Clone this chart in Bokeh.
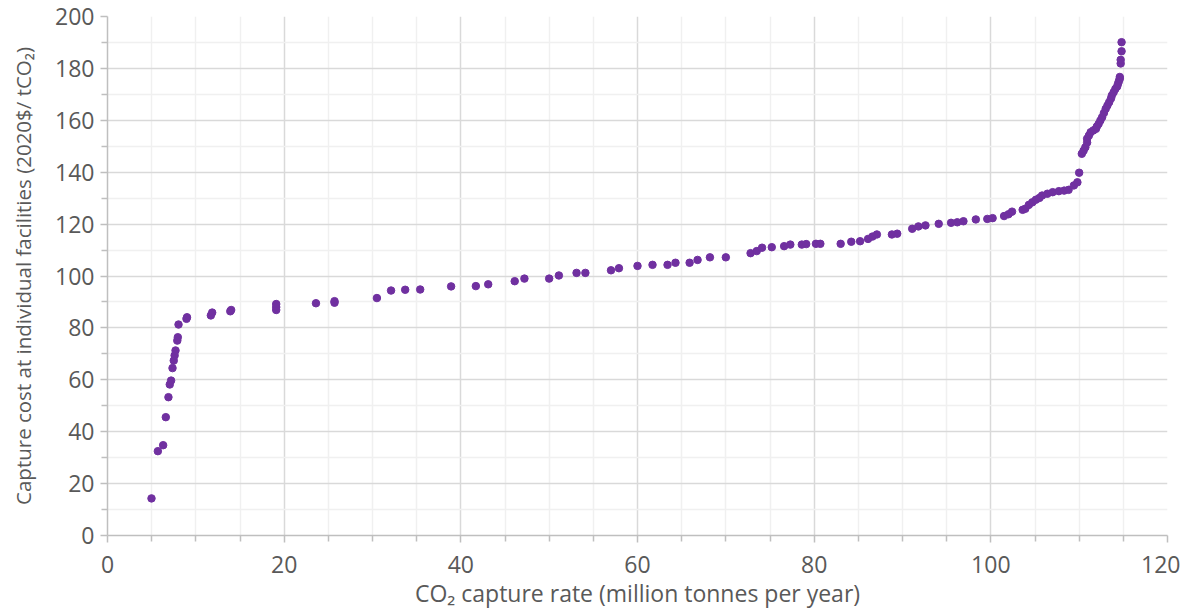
from bokeh.plotting import figure
from bokeh.models import Range1d, FixedTicker, ColumnDataSource
from bokeh.embed import file_html
from bokeh.resources import INLINE

# CO2 capture rate (million tonnes per year), cumulative
capture_rate = [
    4.98, 5.7, 6.3, 6.6, 6.9, 7.05, 7.2, 7.36, 7.5, 7.6, 7.7, 7.9, 7.96, 8.04, 8.94, 9.0,
    11.7, 11.85, 13.9, 14.0,
    19.1, 19.1, 19.1,
    23.6, 25.7, 25.7, 30.5, 32.1, 33.7, 35.4, 38.9, 41.7, 43.1,
    46.1, 47.2, 50.0, 51.1, 53.1, 54.1, 57.0, 57.9, 60.0, 61.7,
    63.4, 64.3, 65.9, 66.8, 68.2, 70.0, 72.8, 73.5, 74.1, 75.2,
    76.6, 77.3, 78.6, 79.1, 80.2, 80.7, 83.0, 84.2, 85.2, 86.1,
    86.6, 87.1, 88.8, 89.4, 91.1, 91.8, 92.6, 94.1, 95.5, 96.2,
    96.9, 98.3, 99.6, 100.2,
    101.5, 102.0, 102.4, 103.6, 103.9, 104.3, 104.7, 105.1, 105.5, 105.8,
    106.4, 107.0, 107.7, 108.3, 108.8, 109.4, 109.8, 110.0,
    110.3, 110.5, 110.7, 110.9, 110.9, 111.1, 111.3, 111.6, 111.9, 112.0,
    112.2, 112.4, 112.6, 112.8, 113.0, 113.2, 113.4, 113.6, 113.7, 113.9,
    114.1, 114.3, 114.4, 114.5, 114.6, 114.6, 114.7, 114.7, 114.8, 114.8,
]

# Capture cost at individual facilities (2020$/tCO2)
capture_cost = [
    14.3, 32.5, 34.8, 45.6, 53.3, 58.2, 59.7, 64.5, 67.4, 69.4, 71.3, 75.1, 76.4, 81.3, 83.5, 84.1,
    84.8, 85.9, 86.4, 86.9,
    86.9, 88.0, 89.2,
    89.5, 89.7, 90.3, 91.5, 94.4, 94.7, 94.8, 96.0, 96.1, 96.8,
    98.0, 99.0, 99.0, 100.2, 101.2, 101.2, 102.2, 103.0, 103.9, 104.3,
    104.3, 105.1, 105.1, 106.2, 107.2, 107.2, 108.8, 109.6, 110.9, 111.1,
    111.5, 112.1, 112.1, 112.3, 112.4, 112.4, 112.4, 113.2, 113.4, 114.3,
    115.2, 116.0, 116.0, 116.3, 118.2, 119.1, 119.5, 120.1, 120.5, 120.7,
    121.1, 121.8, 122.0, 122.3,
    123.1, 123.8, 124.8, 125.5, 125.9, 127.4, 128.4, 129.4, 130.1, 131.0,
    131.7, 132.3, 132.7, 132.9, 133.2, 134.9, 136.1, 139.8,
    147.1, 148.3, 149.6, 151.4, 152.9, 154.1, 155.4, 156.1, 156.7, 157.6,
    158.6, 159.9, 161.2, 162.8, 164.4, 165.7, 167.0, 168.4, 169.6, 170.8,
    172.1, 173.0, 174.1, 175.1, 176.0, 176.7, 181.9, 183.3, 186.6, 190.1,
]

x_ticks = [0, 20, 40, 60, 80, 100, 120]
x_minor = [5, 10, 15, 25, 30, 35, 45, 50, 55, 65, 70, 75, 85, 90, 95, 105, 110, 115]
y_ticks = [0, 20, 40, 60, 80, 100, 120, 140, 160, 180, 200]
y_minor = [10, 30, 50, 70, 90, 110, 130, 150, 170, 190]

x_label = "CO\u2082 capture rate (million tonnes per year)"
y_label = "Capture cost at individual facilities (2020$/ tCO\u2082)"

FONT = "Open Sans"
TXT = "#595959"

src = ColumnDataSource(data=dict(x=capture_rate, y=capture_cost))

p = figure(width=1180, height=615, output_backend="svg", toolbar_location=None,
           x_range=Range1d(0, 120), y_range=Range1d(0, 200),
           min_border_left=107, min_border_right=13, min_border_top=16, min_border_bottom=80)
p.outline_line_color = None
p.background_fill_color = "white"
p.border_fill_color = "white"

p.scatter("x", "y", source=src, size=7.5, fill_color="#7030A0", line_color="#7030A0")

p.xaxis.ticker = FixedTicker(ticks=x_ticks, minor_ticks=x_minor)
p.yaxis.ticker = FixedTicker(ticks=y_ticks, minor_ticks=y_minor)

for ax in (p.xaxis[0], p.yaxis[0]):
    ax.axis_line_color = "#BFBFBF"
    ax.axis_line_width = 1.5
    ax.major_tick_line_color = "#BFBFBF"
    ax.minor_tick_line_color = "#BFBFBF"
    ax.major_tick_line_width = 1.5
    ax.minor_tick_line_width = 1.5
    ax.major_tick_in = 0
    ax.minor_tick_in = 0
    ax.major_tick_out = 7
    ax.minor_tick_out = 6
    ax.major_label_text_font = FONT
    ax.major_label_text_font_size = "23px"
    ax.major_label_text_color = TXT
    ax.axis_label_text_font = FONT
    ax.axis_label_text_font_style = "normal"
    ax.axis_label_text_color = TXT

p.xaxis.axis_label = x_label
p.yaxis.axis_label = y_label
p.xaxis.axis_label_text_font_size = "23px"
p.yaxis.axis_label_text_font_size = "20.5px"
p.xaxis.major_label_standoff = 13
p.yaxis.major_label_standoff = 6
p.xaxis.axis_label_standoff = 1
p.yaxis.axis_label_standoff = 15

p.xgrid.grid_line_color = "#D9D9D9"
p.ygrid.grid_line_color = "#D9D9D9"
p.xgrid.grid_line_width = 1.5
p.ygrid.grid_line_width = 1.5
p.xgrid.minor_grid_line_color = "#F0F0F0"
p.ygrid.minor_grid_line_color = "#F0F0F0"
p.xgrid.minor_grid_line_width = 1.5
p.ygrid.minor_grid_line_width = 1.5

open("out.html", "w").write(file_html(p, INLINE))
